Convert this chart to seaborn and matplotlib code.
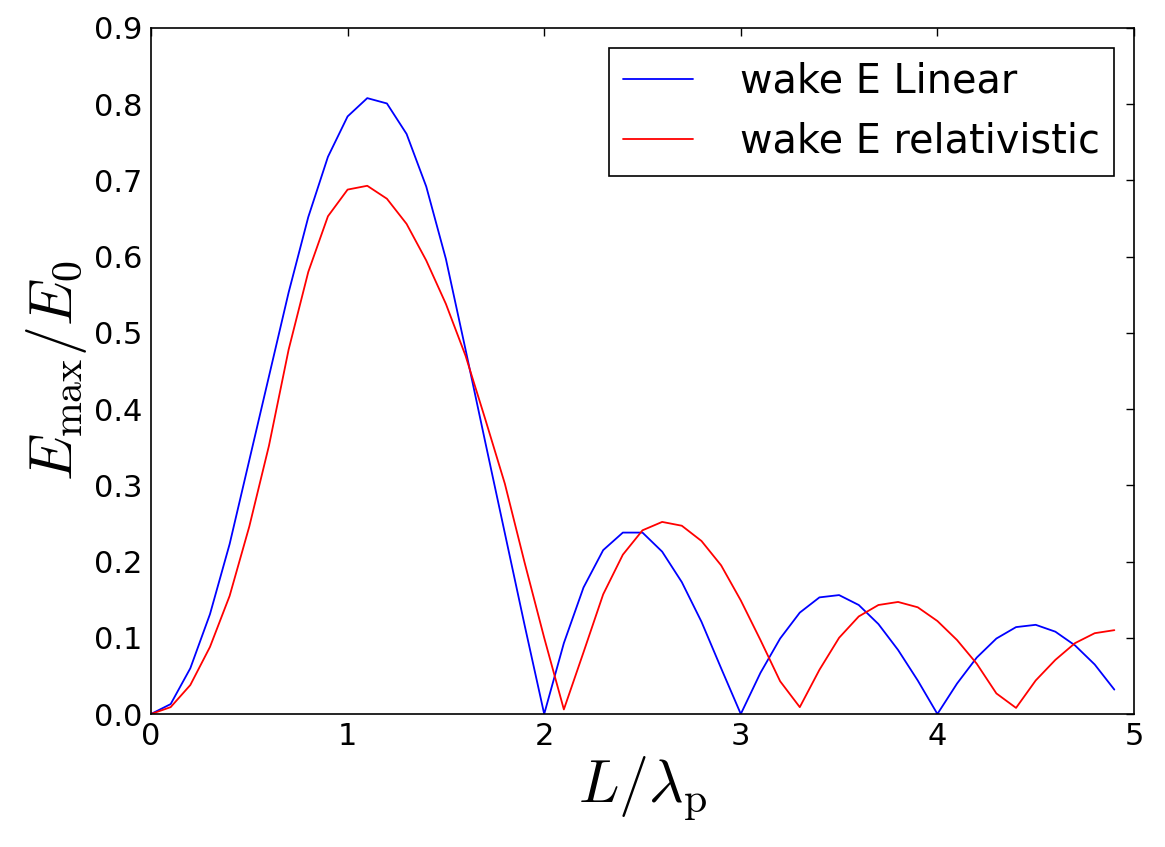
import numpy as np
import pandas as pd
import matplotlib
matplotlib.use("Agg")
import matplotlib.pyplot as plt
import seaborn as sns

# L / lambda_p sample points
L_over_lp = [0.0, 0.1, 0.2, 0.3, 0.4, 0.5, 0.6, 0.7, 0.8, 0.9,
             1.0, 1.1, 1.2, 1.3, 1.4, 1.5, 1.6, 1.7, 1.8, 1.9,
             2.0, 2.1, 2.2, 2.3, 2.4, 2.5, 2.6, 2.7, 2.8, 2.9,
             3.0, 3.1, 3.2, 3.3, 3.4, 3.5, 3.6, 3.7, 3.8, 3.9,
             4.0, 4.1, 4.2, 4.3, 4.4, 4.5, 4.6, 4.7, 4.8, 4.9]

# E_max / E_0, linear wake
wake_linear = [0.000, 0.013, 0.060, 0.131, 0.223, 0.333, 0.443, 0.553, 0.652, 0.731,
               0.784, 0.808, 0.801, 0.761, 0.692, 0.597, 0.478, 0.357, 0.237, 0.117,
               0.000, 0.093, 0.166, 0.215, 0.238, 0.238, 0.213, 0.173, 0.121, 0.060,
               0.000, 0.054, 0.099, 0.133, 0.153, 0.156, 0.143, 0.118, 0.084, 0.044,
               0.000, 0.040, 0.074, 0.099, 0.114, 0.117, 0.108, 0.090, 0.065, 0.032]

# E_max / E_0, relativistic wake
wake_relativistic = [0.000, 0.009, 0.038, 0.088, 0.155, 0.246, 0.352, 0.478, 0.580, 0.653,
                     0.688, 0.693, 0.676, 0.643, 0.595, 0.538, 0.470, 0.387, 0.302, 0.199,
                     0.100, 0.006, 0.081, 0.157, 0.209, 0.241, 0.252, 0.247, 0.227, 0.195,
                     0.149, 0.097, 0.043, 0.009, 0.058, 0.100, 0.128, 0.143, 0.147, 0.140,
                     0.122, 0.097, 0.066, 0.027, 0.008, 0.044, 0.071, 0.093, 0.106, 0.110]

labels = ['wake E Linear', 'wake E relativistic']
colors = ['blue', 'red']

x_ticks = [0, 1, 2, 3, 4, 5]
y_ticks = [0.0, 0.1, 0.2, 0.3, 0.4, 0.5, 0.6, 0.7, 0.8, 0.9]

df = pd.DataFrame({
    'L': L_over_lp * 2,
    'E': wake_linear + wake_relativistic,
    'series': [labels[0]] * len(L_over_lp) + [labels[1]] * len(L_over_lp),
})

sns.set_style('white')
plt.rcParams['font.family'] = ['DejaVu Sans']
plt.rcParams['mathtext.fontset'] = 'cm'
plt.rcParams['text.color'] = 'black'
plt.rcParams['axes.labelcolor'] = 'black'

fig = plt.figure(figsize=(11.65, 8.47), dpi=100)
ax = fig.add_axes([151 / 1165, (847 - 714) / 847, 983 / 1165, 686 / 847])

sns.lineplot(data=df, x='L', y='E', hue='series', hue_order=labels,
             palette=dict(zip(labels, colors)), linewidth=1.3, ax=ax,
             estimator=None, sort=False)

ax.set_xlim(0, 5)
ax.set_ylim(0, 0.9)
ax.set_xticks(x_ticks)
ax.set_xticklabels([str(t) for t in x_ticks])
ax.set_yticks(y_ticks)
ax.set_yticklabels([f'{t:.1f}' for t in y_ticks])
ax.tick_params(direction='in', length=6, width=1, top=True, right=True,
               labelsize=22, pad=6, colors='black')
for sp in ax.spines.values():
    sp.set_visible(True)
    sp.set_color('black')
    sp.set_linewidth(1.2)

ax.set_xlabel(r'$L/\lambda_{\rm p}$', fontsize=43, labelpad=2)
ax.set_ylabel(r'$E_{\rm max}/E_0$', fontsize=43, labelpad=4)

leg = ax.legend(loc='upper right', fontsize=28.6, frameon=True, fancybox=False,
                borderpad=0.35, handlelength=1.75, handletextpad=1.2,
                labelspacing=0.5, borderaxespad=0.5, labelcolor='black')
leg.get_frame().set_edgecolor('black')
leg.get_frame().set_linewidth(1.2)
leg.get_frame().set_alpha(1)
for line in leg.get_lines():
    line.set_linewidth(1.3)

fig.savefig('out.png', dpi=100)
